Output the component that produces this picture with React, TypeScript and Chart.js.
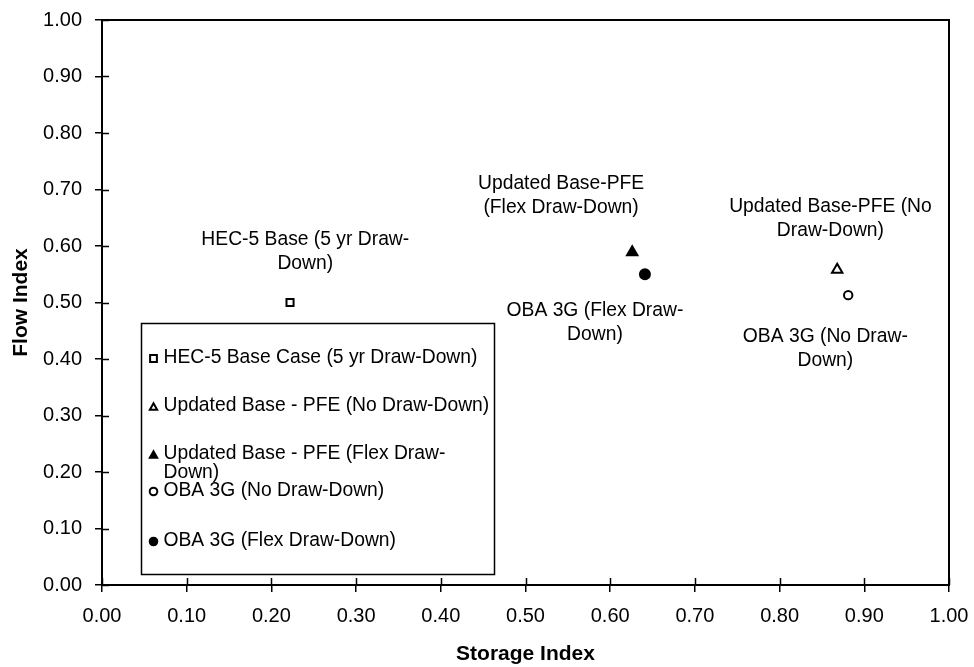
import React, { useEffect, useRef } from "react";
import { Chart, registerables } from "chart.js";
Chart.register(...registerables);

const seriesNames = [
  "HEC-5 Base Case (5 yr Draw-Down)",
  "Updated Base - PFE (No Draw-Down)",
  "Updated Base - PFE (Flex Draw-Down)",
  "OBA 3G (No Draw-Down)",
  "OBA 3G (Flex Draw-Down)",
];
const legendLines = [
  ["HEC-5 Base Case (5 yr Draw-Down)"],
  ["Updated Base - PFE (No Draw-Down)"],
  ["Updated Base - PFE (Flex Draw-", "Down)"],
  ["OBA 3G (No Draw-Down)"],
  ["OBA 3G (Flex Draw-Down)"],
];
const storageIndex = [0.222, 0.868, 0.626, 0.881, 0.641];
const flowIndex = [0.5, 0.558, 0.589, 0.513, 0.55];
const pointStyles = ["rect", "triangle", "triangle", "circle", "circle"];
const filled = [false, false, true, false, true];

const xTicks = [0, 0.1, 0.2, 0.3, 0.4, 0.5, 0.6, 0.7, 0.8, 0.9, 1.0];
const yTicks = [0, 0.1, 0.2, 0.3, 0.4, 0.5, 0.6, 0.7, 0.8, 0.9, 1.0];

const annotationText = [
  ["HEC-5 Base (5 yr Draw-", "Down)"],
  ["Updated Base-PFE", "(Flex Draw-Down)"],
  ["Updated Base-PFE (No", "Draw-Down)"],
  ["OBA 3G (Flex Draw-", "Down)"],
  ["OBA 3G (No Draw-", "Down)"],
];
const annotationX = [0.24, 0.542, 0.86, 0.582, 0.854];
const annotationY = [0.612, 0.71, 0.669, 0.485, 0.439];

const FONT = "'Liberation Sans', Arial, Helvetica, sans-serif";
const FS = 20;
const LFS = 19.3;
const AFS = 19.3;
const TFS = 21;

function drawMarker(ctx: CanvasRenderingContext2D, style: string, fill: boolean, x: number, y: number, r: number) {
  ctx.save();
  ctx.lineWidth = 2;
  ctx.strokeStyle = "#000";
  ctx.fillStyle = fill ? "#000" : "#fff";
  ctx.beginPath();
  if (style === "rect") {
    const s = r * Math.SQRT1_2;
    ctx.rect(x - s, y - s, 2 * s, 2 * s);
  } else if (style === "triangle") {
    for (let i = 0; i < 3; i++) {
      const a = -Math.PI / 2 + (i * 2 * Math.PI) / 3;
      const px = x + Math.cos(a) * r;
      const py = y + Math.sin(a) * r + r * 0.25;
      if (i === 0) ctx.moveTo(px, py);
      else ctx.lineTo(px, py);
    }
    ctx.closePath();
  } else {
    ctx.arc(x, y, r, 0, Math.PI * 2);
  }
  ctx.fill();
  ctx.stroke();
  ctx.restore();
}

const framePlugin = {
  id: "frame",
  afterDraw(chart: any) {
    const { ctx, chartArea: ca, scales } = chart;
    ctx.save();
    ctx.strokeStyle = "#000";
    ctx.lineWidth = 2;
    ctx.strokeRect(ca.left, ca.top, ca.right - ca.left, ca.bottom - ca.top);
    ctx.lineWidth = 1.5;
    xTicks.forEach((v) => {
      const px = Math.round(scales.x.getPixelForValue(v)) + 0.5;
      ctx.beginPath();
      ctx.moveTo(px, ca.bottom);
      ctx.lineTo(px, ca.bottom - 7);
      ctx.stroke();
    });
    yTicks.forEach((v) => {
      const py = Math.round(scales.y.getPixelForValue(v)) + 0.5;
      ctx.beginPath();
      ctx.moveTo(ca.left, py);
      ctx.lineTo(ca.left + 7, py);
      ctx.stroke();
    });
    ctx.restore();
  },
};

const annotationPlugin = {
  id: "annot",
  afterDatasetsDraw(chart: any) {
    const { ctx, scales } = chart;
    ctx.save();
    ctx.fillStyle = "#000";
    ctx.font = `${AFS}px ${FONT}`;
    ctx.textAlign = "center";
    ctx.textBaseline = "middle";
    annotationText.forEach((lines, i) => {
      const x = scales.x.getPixelForValue(annotationX[i]);
      const y = scales.y.getPixelForValue(annotationY[i]);
      lines.forEach((t, j) => ctx.fillText(t, x, y + j * 24));
    });
    ctx.restore();
  },
};

const legendPlugin = {
  id: "boxLegend",
  afterDraw(chart: any) {
    const { ctx, scales } = chart;
    const left = Math.round(scales.x.getPixelForValue(0.046)) + 0.5;
    const right = Math.round(scales.x.getPixelForValue(0.463)) + 0.5;
    const top = Math.round(scales.y.getPixelForValue(0.464)) + 0.5;
    const bottom = Math.round(scales.y.getPixelForValue(0.0195)) + 0.5;
    ctx.save();
    ctx.fillStyle = "#fff";
    ctx.fillRect(left, top, right - left, bottom - top);
    ctx.strokeStyle = "#000";
    ctx.lineWidth = 1.5;
    ctx.strokeRect(left, top, right - left, bottom - top);
    ctx.font = `${LFS}px ${FONT}`;
    ctx.fillStyle = "#000";
    ctx.textAlign = "left";
    ctx.textBaseline = "middle";
    const rowOffsets = [34, 82, 130, 167, 217];
    seriesNames.forEach((_, i) => {
      const y = top + rowOffsets[i];
      drawMarker(ctx, pointStyles[i], filled[i], left + 12, y + 1, pointStyles[i] === "rect" ? 4.8 : pointStyles[i] === "triangle" ? 4.2 : 3.8);
      ctx.fillStyle = "#000";
      legendLines[i].forEach((t, j) => ctx.fillText(t, left + 22, y + j * 19));
    });
    ctx.restore();
  },
};

export default function App() {
  const ref = useRef<HTMLCanvasElement | null>(null);
  useEffect(() => {
    document.body.style.margin = "0";
    const canvas = ref.current!;
    const datasets = seriesNames.map((name, i) => ({
      label: name,
      data: [{ x: storageIndex[i], y: flowIndex[i] }],
      pointStyle: pointStyles[i],
      pointRadius: pointStyles[i] === "rect" ? 5 : pointStyles[i] === "triangle" ? 6 : i === 4 ? 5 : 4.2,
      pointBackgroundColor: filled[i] ? "#000" : "#fff",
      pointBorderColor: "#000",
      pointBorderWidth: 2,
      showLine: false,
    }));
    const tickFont = { family: FONT, size: FS };
    const titleFont = { family: FONT, size: TFS, weight: "bold" as const };
    const chart = new Chart(canvas, {
      type: "scatter",
      data: { datasets: datasets as any },
      options: {
        animation: false,
        responsive: false,
        maintainAspectRatio: false,
        layout: { padding: { top: 20, right: 25, left: 0, bottom: 0 } },
        plugins: { legend: { display: false }, tooltip: { enabled: false } },
        scales: {
          x: {
            type: "linear",
            min: 0,
            max: 1,
            afterBuildTicks: (s: any) => {
              s.ticks = xTicks.map((v) => ({ value: v }));
            },
            afterFit: (s: any) => {
              s.height = 82;
              s.paddingLeft = 0;
              s.paddingRight = 0;
            },
            ticks: { font: tickFont, color: "#000", padding: 12, maxRotation: 0, callback: (v: any) => Number(v).toFixed(2) },
            grid: { drawOnChartArea: false, drawTicks: true, tickLength: 7, color: "#000", lineWidth: 1.5 },
            border: { color: "#000", width: 2 },
            title: { display: true, text: "Storage Index", font: titleFont, color: "#000", padding: { top: 0, bottom: 0 } },
          },
          y: {
            type: "linear",
            min: 0,
            max: 1,
            afterBuildTicks: (s: any) => {
              s.ticks = yTicks.map((v) => ({ value: v }));
            },
            afterFit: (s: any) => {
              s.width = 102;
              s.paddingTop = 0;
              s.paddingBottom = 0;
            },
            ticks: { font: tickFont, color: "#000", padding: 13, callback: (v: any) => Number(v).toFixed(2) },
            grid: { drawOnChartArea: false, drawTicks: true, tickLength: 7, color: "#000", lineWidth: 1.5 },
            border: { color: "#000", width: 2 },
            title: { display: true, text: "Flow Index", font: titleFont, color: "#000", padding: { top: 9, bottom: 0 } },
          },
        },
      },
      plugins: [framePlugin, annotationPlugin, legendPlugin],
    });
    return () => chart.destroy();
  }, []);
  return (
    <div style={{ width: 974, height: 667, background: "#fff" }}>
      <canvas ref={ref} width={974} height={667} style={{ display: "block", width: 974, height: 667 }} />
    </div>
  );
}
